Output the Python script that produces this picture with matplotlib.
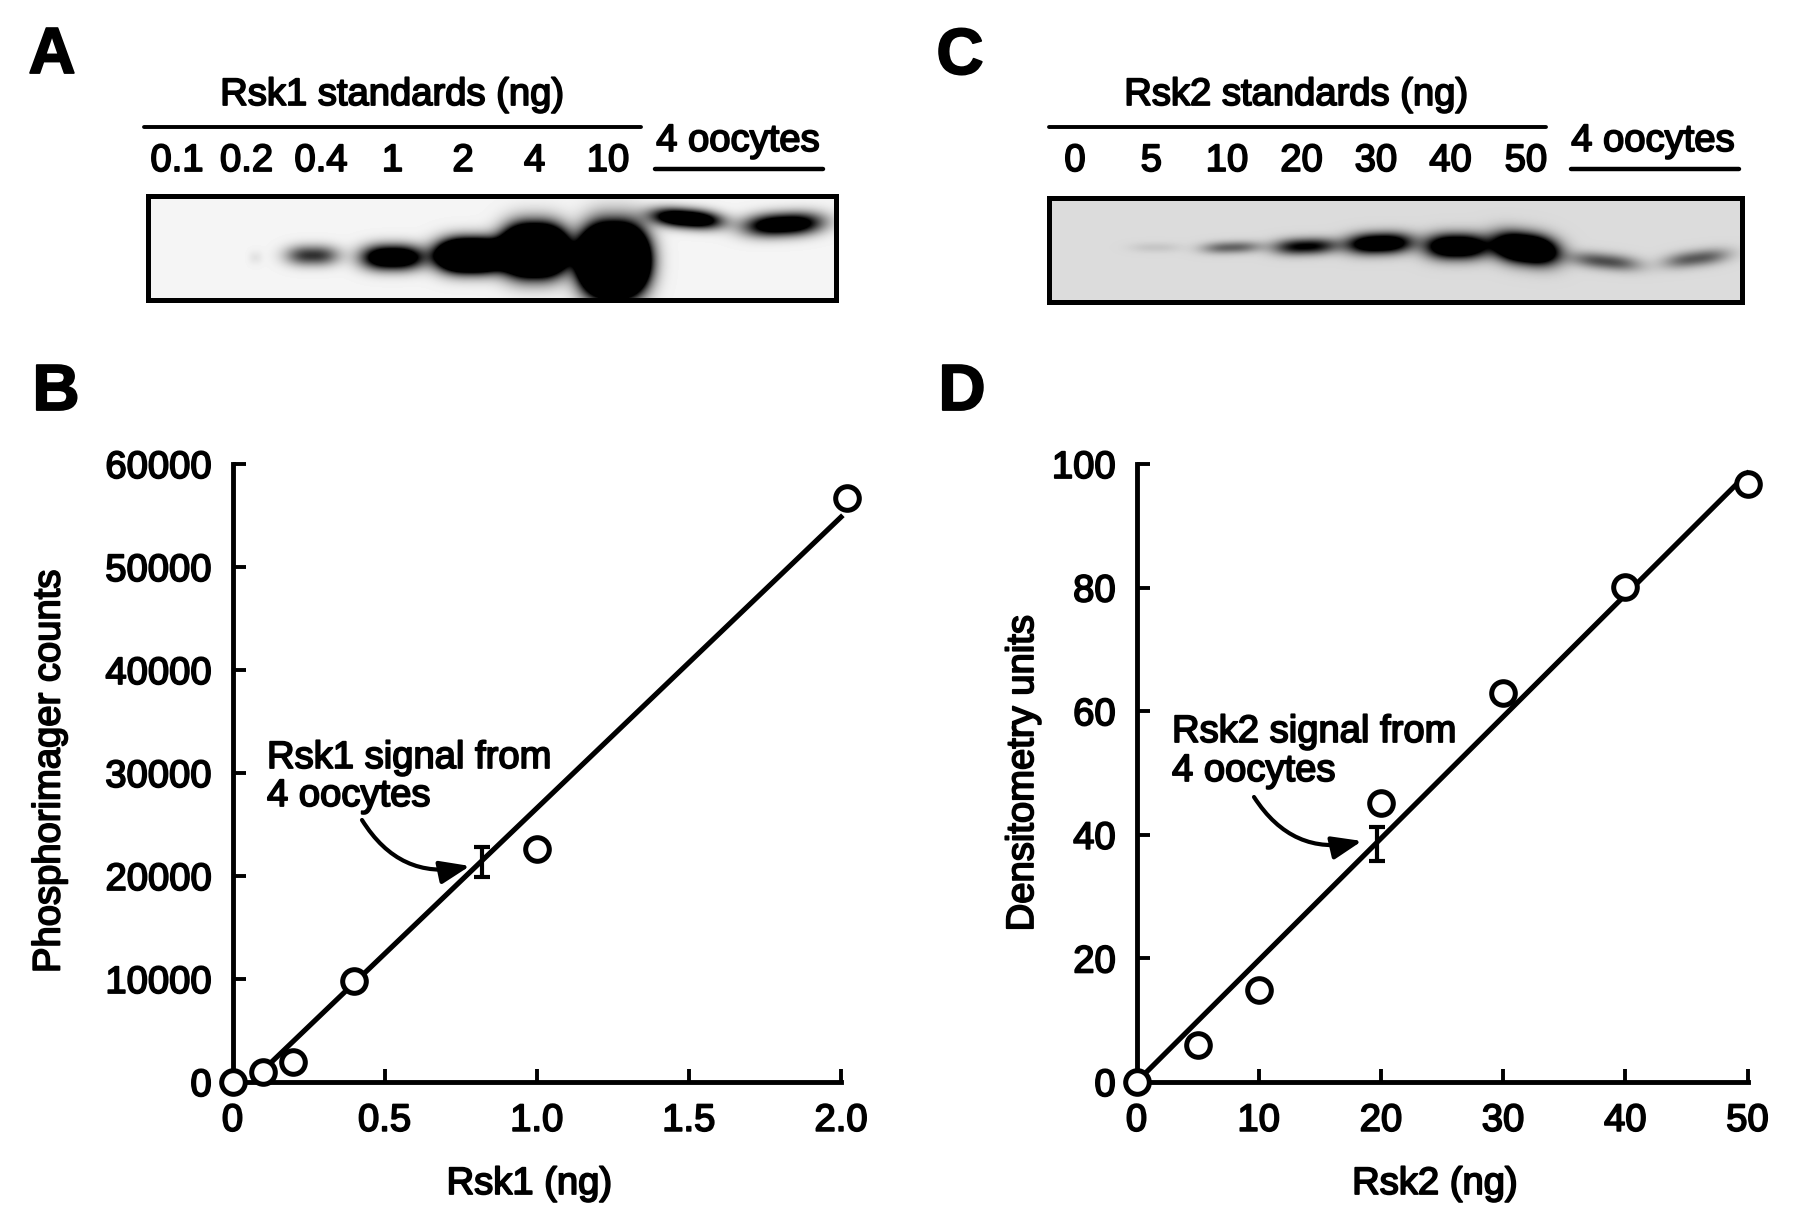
import numpy as np
import matplotlib
matplotlib.use('Agg')
import matplotlib.pyplot as plt
import matplotlib.patheffects as pe
from matplotlib.patches import FancyArrowPatch, Rectangle

W, H = 1800, 1219

# panel B
rsk1_ng = [0, 0.1, 0.2, 0.4, 1.0, 2.02]
rsk1_counts = [0, 1000, 1950, 9800, 22600, 56700]
rsk1_fit_x = [0.12, 2.0]
rsk1_fit_y = [1700, 54850]
rsk1_signal_x = 0.82
rsk1_signal_y = 21350
rsk1_signal_err = 1450
rsk1_xticks = [0, 0.5, 1.0, 1.5, 2.0]
rsk1_xlabels = ['0', '0.5', '1.0', '1.5', '2.0']
rsk1_yticks = [0, 10000, 20000, 30000, 40000, 50000, 60000]

# panel D
rsk2_ng = [0, 5, 10, 20, 30, 40, 50]
rsk2_units = [0, 6, 14.9, 45.1, 63, 80.1, 96.8]
rsk2_fit_x = [0, 50]
rsk2_fit_y = [0, 98.5]
rsk2_signal_x = 19.7
rsk2_signal_y = 38.5
rsk2_signal_err = 2.75
rsk2_xticks = [0, 10, 20, 30, 40, 50]
rsk2_yticks = [0, 20, 40, 60, 80, 100]

# blot lanes
rsk1_lanes = ['0.1', '0.2', '0.4', '1', '2', '4', '10']
rsk2_lanes = ['0', '5', '10', '20', '30', '40', '50']

# bands on the gels: x, y, half width, half height, darkness, tilt
blot_a_x = [255, 312, 392, 470, 534, 613, 686, 783]
blot_a_y = [257, 255, 257, 255, 250, 260, 218, 224]
blot_a_w = [7, 26, 30, 32, 30, 30, 34, 38]
blot_a_h = [7, 10, 12, 15, 22, 29, 9, 11]
blot_a_d = [0.07, 0.8, 1.7, 3.5, 4.5, 6.0, 1.7, 1.5]
blot_a_t = [0, 0, 0, 0, 0, 0, 0.08, -0.05]

blot_c_x = [1155, 1231, 1305, 1379, 1456, 1525, 1605, 1696]
blot_c_y = [247, 247, 246, 243, 246, 248, 261, 258]
blot_c_w = [25, 29, 31, 32, 30, 31, 34, 32]
blot_c_h = [5, 6, 8, 10, 12, 14, 8, 8]
blot_c_d = [0.1, 0.55, 1.05, 1.6, 1.8, 2.4, 0.65, 0.6]
blot_c_t = [0, -0.03, -0.03, -0.03, 0, 0.12, 0.1, -0.12]

plt.rcParams['font.family'] = ['Liberation Sans', 'DejaVu Sans']
FS = 27.5
bold_ish = [pe.withStroke(linewidth=1.3, foreground='black')]

fig = plt.figure(figsize=(W / 100, H / 100), dpi=100, facecolor='white')
bg = fig.add_axes([0, 0, 1, 1])
bg.set_xlim(0, W)
bg.set_ylim(H, 0)
bg.axis('off')


def label(x, y, s, size=FS, **kw):
    kw.setdefault('ha', 'center')
    kw.setdefault('va', 'center')
    return bg.text(x, y, s, fontsize=size, color='black', path_effects=bold_ish, **kw)


def draw_blot(left, right, top, bottom, xs, ys, ws, hs, ds, ts, shade):
    px, py = np.meshgrid(np.arange(left, right), np.arange(top, bottom))
    dens = np.zeros(px.shape, dtype=float)
    for x, y, w, h, d, t in zip(xs, ys, ws, hs, ds, ts):
        dx = (px - x) / w
        dy = (py - y - t * (px - x)) / h
        dens += d * np.exp(-(np.abs(dx) ** 2.6 + dy ** 2))
    im = shade * (1 - np.clip(dens, 0, 1))
    bg.imshow(im, cmap='gray', vmin=0, vmax=1, extent=(left, right, bottom, top),
              aspect='auto', interpolation='bilinear')
    bg.add_patch(Rectangle((left, top), right - left, bottom - top, fill=False,
                           ec='black', lw=3.6))
    bg.set_xlim(0, W)
    bg.set_ylim(H, 0)


def draw_header(line1, line2, title, title_x, oocyte_x, lanes, lane_x):
    bg.plot(line1, [127, 127], color='black', lw=2.8, solid_capstyle='round')
    bg.plot(line2, [169, 169], color='black', lw=3.2, solid_capstyle='round')
    label(title_x, 95, title)
    label(oocyte_x, 141, '4 oocytes')
    for s, x in zip(lanes, lane_x):
        label(x, 161, s)


def draw_curve(start, end, rad):
    bg.add_patch(FancyArrowPatch(start, end, connectionstyle='arc3,rad=%s' % rad,
                                 arrowstyle='-|>,head_length=1.3,head_width=0.5',
                                 mutation_scale=14, lw=3, color='black',
                                 shrinkA=0, shrinkB=0, zorder=6))


def draw_plot(left, right, x_end, y_end, xs, ys, fx, fy, sx, sy, serr, xticks, xlabels, yticks):
    ax = fig.add_axes([left / W, 1 - 1082 / H, (right - left) / W, (1082 - 464) / H])
    ax.patch.set_alpha(0)
    ax.set_xlim(0, x_end)
    ax.set_ylim(0, y_end)
    ax.plot(fx, fy, color='black', lw=3.7, clip_on=False, zorder=3)
    ax.errorbar([sx], [sy], yerr=[serr], color='black', elinewidth=3, capsize=6,
                capthick=3, clip_on=False, zorder=3)
    ax.plot(xs, ys, 'o', ms=17, mfc='white', mec='black', mew=3.6, clip_on=False, zorder=5)
    for side in ['top', 'right']:
        ax.spines[side].set_visible(False)
    for side in ['left', 'bottom']:
        ax.spines[side].set_linewidth(3.5)
    ax.set_xticks(xticks)
    ax.set_xticklabels(xlabels)
    ax.set_yticks(yticks)
    ax.set_yticklabels([str(t) for t in yticks])
    ax.tick_params(axis='both', direction='in', length=9.5, width=2.8, labelsize=FS, pad=15)
    for t in ax.get_xticklabels() + ax.get_yticklabels():
        t.set_path_effects(bold_ish)
    return ax


# letters
label(52, 56, 'A', size=47, fontweight='bold')
label(960, 57, 'C', size=47, fontweight='bold')
label(56, 393, 'B', size=47, fontweight='bold')
label(962, 393, 'D', size=47, fontweight='bold')

# top row
draw_header([144, 641], [655, 823], 'Rsk1 standards (ng)', 392.5, 738, rsk1_lanes,
            [177, 246.5, 321, 392.5, 463, 534.6, 608])
draw_header([1049, 1546], [1571, 1739], 'Rsk2 standards (ng)', 1296.5, 1653, rsk2_lanes,
            [1075, 1151.4, 1227, 1301.5, 1376, 1450.5, 1526])
draw_blot(148, 836, 196, 300, blot_a_x, blot_a_y, blot_a_w, blot_a_h, blot_a_d, blot_a_t, 0.96)
draw_blot(1049, 1742, 198, 302, blot_c_x, blot_c_y, blot_c_w, blot_c_h, blot_c_d, blot_c_t, 0.86)

# bottom row
draw_plot(232.5, 841, 2.0, 60000, rsk1_ng, rsk1_counts, rsk1_fit_x, rsk1_fit_y,
          rsk1_signal_x, rsk1_signal_y, rsk1_signal_err, rsk1_xticks, rsk1_xlabels, rsk1_yticks)
draw_plot(1136.5, 1747.5, 50, 100, rsk2_ng, rsk2_units, rsk2_fit_x, rsk2_fit_y,
          rsk2_signal_x, rsk2_signal_y, rsk2_signal_err, rsk2_xticks,
          [str(t) for t in rsk2_xticks], rsk2_yticks)

label(529.5, 1184, 'Rsk1 (ng)')
label(1435, 1184, 'Rsk2 (ng)')
label(49.5, 771, 'Phosphorimager counts', rotation=90)
label(1023, 773, 'Densitometry units', rotation=90)

label(267, 758, 'Rsk1 signal from', ha='left')
label(267, 796, '4 oocytes', ha='left')
label(1172, 732, 'Rsk2 signal from', ha='left')
label(1172, 771, '4 oocytes', ha='left')
draw_curve((362, 820), (470, 866), 0.35)
draw_curve((1254, 797), (1362, 841), 0.35)

fig.savefig('out.png', dpi=100, facecolor='white')
